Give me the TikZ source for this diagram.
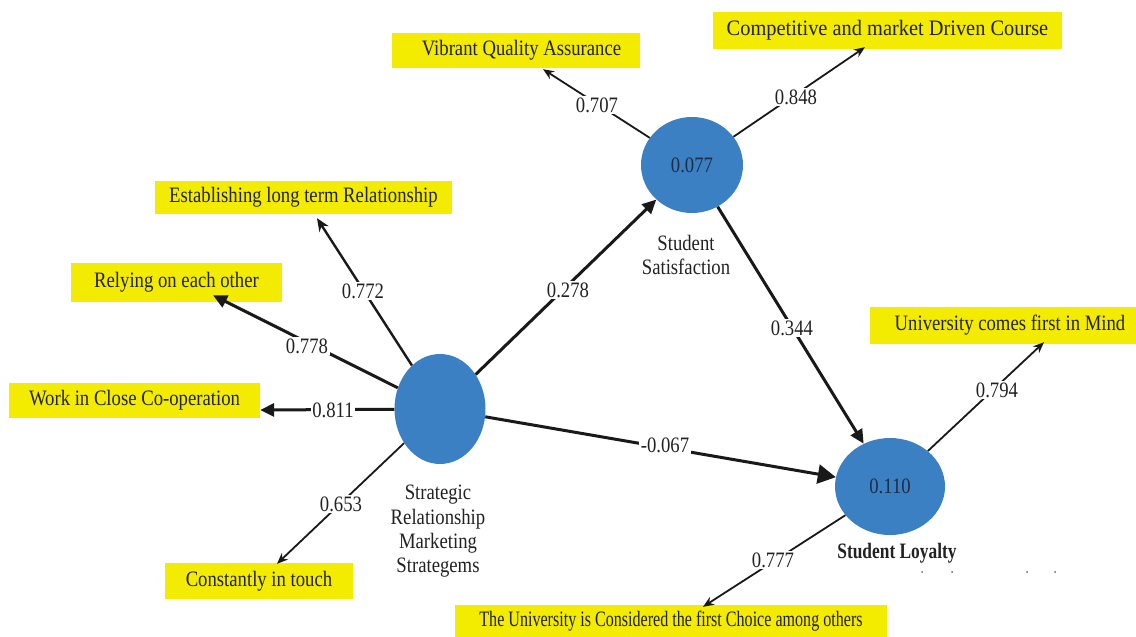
\documentclass[tikz,border=0pt]{standalone}
\usepackage{fontspec}
\setmainfont{Liberation Serif}[FakeStretch=0.85]
\usetikzlibrary{shapes.geometric,arrows.meta}
\definecolor{boxyellow}{HTML}{F4EC00}
\definecolor{nodeblue}{HTML}{3C80C4}
\definecolor{txt}{HTML}{222222}
\definecolor{numtxt}{HTML}{1E2C44}
\begin{document}
\begin{tikzpicture}[x=1pt,y=-1pt,
  every node/.style={font=\fontsize{22}{24.3}\selectfont, text=txt},
  ybox/.style={fill=boxyellow, inner sep=0pt},
  lv/.style={ellipse, fill=nodeblue, inner sep=0pt, text=numtxt},
  wt/.style={fill=white, inner sep=1.5pt},
  lbl/.style={align=center, inner sep=0pt},
  thinarr/.style={draw=black!90, line width=1.8pt, -{Stealth[length=11pt,width=9pt]}},
  thickarr/.style={draw=black!90, line width=3pt, -{Triangle[length=14pt,width=13pt]}},
  bigarr/.style={draw=black!90, line width=3pt, -{Triangle[length=18pt,width=19pt]}},
]
\useasboundingbox (0,0) rectangle (1136,637);

% indicator boxes
\node[ybox, minimum width=248pt, minimum height=35pt] (vqa) at (516,50) {\hspace*{11pt}Vibrant Quality Assurance};
\node[ybox, minimum width=349pt, minimum height=37pt] (cmd) at (887.5,30.5) {\scalebox{1.09}[1]{Competitive and market Driven Course}};
\node[ybox, minimum width=297pt, minimum height=33pt] (elr) at (303.5,197.5) {Establishing long term Relationship};
\node[ybox, minimum width=211pt, minimum height=39pt] (roe) at (176.5,282.5) {Relying on each other};
\node[ybox, minimum width=251pt, minimum height=35pt] (wcc) at (134.5,400.5) {Work in Close Co-operation};
\node[ybox, minimum width=188pt, minimum height=36pt] (cit) at (259,581) {Constantly in touch};
\node[ybox, minimum width=432pt, minimum height=32pt] (tuc) at (671,621) {\scalebox{0.86}[1]{The University is Considered the first Choice among others}};
\node[ybox, minimum width=266pt, minimum height=37pt] (ucf) at (1003,325.5) {\hspace*{14pt}University comes first in Mind};

% latent variables
\node[lv, minimum width=91pt, minimum height=110pt] (srms) at (440,409) {};
\node[lv, minimum width=102pt, minimum height=96pt] (ss) at (692,165) {0.077};
\node[lv, minimum width=110pt, minimum height=97pt] (sl) at (890,486.5) {0.110};

% captions
\node[lbl] (ssl) at (686,255) {Student\\Satisfaction};
\node[lbl] (srmsl) at (438,531.5) {Strategic\\Relationship\\Marketing\\Strategems};
\node[lbl, font=\bfseries\fontsize{22}{24}\selectfont] (sll) at (897,553) {\scalebox{0.93}[1]{Student Loyalty}};

% connectors
\draw[thinarr, line width=2.4pt, -{Stealth[length=13pt,width=11pt]}] (srms) -- ([xshift=13.5pt,yshift=-4pt]elr.south);
\draw[thickarr] (srms) -- ([xshift=36.5pt,yshift=7pt]roe.south);
\draw[thickarr] (srms) -- ([yshift=-9.5pt]wcc.east);
\draw[thinarr] (srms) -- ([xshift=18pt,yshift=-1pt]cit.north);
\draw[thickarr] (srms) -- (ss);
\draw[thinarr] (ss) -- ([xshift=27pt,yshift=-1.5pt]vqa.south);
\draw[thinarr] (ss) -- ([xshift=-22.5pt,yshift=2pt]cmd.south);
\draw[thickarr] (ss) -- (sl);
\draw[bigarr] (srms) -- (sl);
\draw[thinarr] (sl) -- ([xshift=41pt,yshift=2pt]ucf.south);
\draw[thinarr] (sl) -- ([xshift=32pt,yshift=-2pt]tuc.north);

% weights
\node[wt] (w1) at (363,291) {0.772};
\node[wt] (w2) at (307,346) {0.778};
\node[wt] (w3) at (333,410) {0.811};
\node[wt] (w4) at (341,504) {0.653};
\node[wt] (w5) at (568,290) {0.278};
\node[wt] (w6) at (597,105) {0.707};
\node[wt] (w7) at (796,97) {0.848};
\node[wt] (w8) at (792,328) {0.344};
\node[wt] (w9) at (665,445) {-0.067};
\node[wt] (w10) at (997,390) {0.794};
\node[wt] (w11) at (773,560) {0.777};

% faint specks
\foreach \px in {922,952,1027,1055} \fill[black!60] (\px,572) circle (1pt);
\end{tikzpicture}
\end{document}
